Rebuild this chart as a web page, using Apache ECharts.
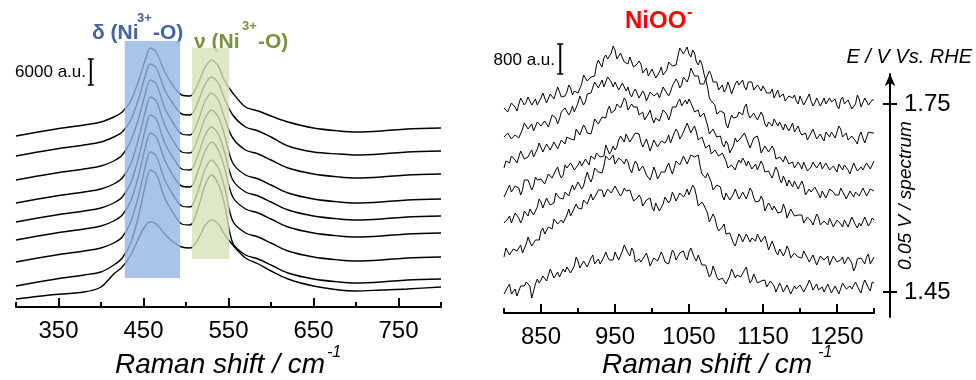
<!DOCTYPE html>
<html><head><meta charset="utf-8">
<script src="https://cdn.jsdelivr.net/npm/echarts@6/dist/echarts.min.js"></script>
<style>html,body{margin:0;padding:0;background:#fff}#c{width:976px;height:380px}</style>
</head><body><div id="c"></div>
<script>
const FONT = '"Liberation Sans", Arial, sans-serif';

// ---- left panel: Raman shift (cm-1) sample positions and stacked spectra (intensity, offset)
const leftShift = [300,340,380,400,415,425,435,445,452,458,465,475,485,495,505,515,522,530,538,545,555,570,585,600,620,650,680,700,730,760,800];
const L1 = [171,177,182,185,190,195,206,228,247,259,255,235,221,212,211,225,239,247,241,227,214,200,196,191,185,179,176,175,176,178,179];
const L2 = [151,157,162,165,170,175,187,210,231,243,239,217,203,193,192,207,222,230,224,209,192,180,176,170,161,155,153,152,153,155,156];
const L3 = [127,133,138,141,146,152,166,191,213,227,223,199,184,173,172,188,205,214,207,190,169,157,153,147,139,133,130,129,130,132,133];
const L4 = [104,110,115,118,123,129,143,171,195,210,206,182,166,155,154,171,188,197,190,173,144,132,128,122,114,108,105,104,105,107,108];
const L5 = [85,91,96,99,104,110,124,152,177,192,188,164,149,138,137,154,171,180,173,156,127,115,111,105,97,91,88,87,88,90,91];
const L6 = [67,73,78,81,86,92,106,134,159,174,170,147,131,121,120,138,155,165,157,140,110,98,94,88,80,74,71,70,71,73,74];
const L7 = [45,51,56,59,64,70,85,114,140,155,151,127,112,101,100,118,137,147,139,121,86,74,70,64,56,50,47,46,47,49,50];
const L8 = [21,27,32,35,42,49,64,94,121,137,133,109,94,83,82,101,121,132,123,104,64,52,48,42,34,28,25,24,25,27,28];
const L9 = [8,12,15,20,33,40,52,70,81,85,83,73,65,60,59,69,81,87,83,73,62,49,43,36,28,21,17,16,17,18,20];

// ---- right panel: Raman shift sample positions and stacked noisy spectra
const rightShift = [
800,802.5,805,807.5,810,812.5,815,817.5,820,822.5,825,827.5,830,832.5,835,837.5,840,842.5,845,847.5,
850,852.5,855,857.5,860,862.5,865,867.5,870,872.5,875,877.5,880,882.5,885,887.5,890,892.5,895,897.5,
900,902.5,905,907.5,910,912.5,915,917.5,920,922.5,925,927.5,930,932.5,935,937.5,940,942.5,945,947.5,
950,952.5,955,957.5,960,962.5,965,967.5,970,972.5,975,977.5,980,982.5,985,987.5,990,992.5,995,997.5,
1000,1002.5,1005,1007.5,1010,1012.5,1015,1017.5,1020,1022.5,1025,1027.5,1030,1032.5,1035,1037.5,1040,1042.5,1045,1047.5,
1050,1052.5,1055,1057.5,1060,1062.5,1065,1067.5,1070,1072.5,1075,1077.5,1080,1082.5,1085,1087.5,1090,1092.5,1095,1097.5,
1100,1102.5,1105,1107.5,1110,1112.5,1115,1117.5,1120,1122.5,1125,1127.5,1130,1132.5,1135,1137.5,1140,1142.5,1145,1147.5,
1150,1152.5,1155,1157.5,1160,1162.5,1165,1167.5,1170,1172.5,1175,1177.5,1180,1182.5,1185,1187.5,1190,1192.5,1195,1197.5,
1200,1202.5,1205,1207.5,1210,1212.5,1215,1217.5,1220,1222.5,1225,1227.5,1230,1232.5,1235,1237.5,1240,1242.5,1245,1247.5,
1250,1252.5,1255,1257.5,1260,1262.5,1265,1267.5,1270,1272.5,1275,1277.5,1280,1282.5,1285,1287.5,1290,1292.5,1295,1297.5,
1300];
const R1 = [
205,207,201,201,210,211,206,202,204,215,213,208,211,216,217,208,210,214,208,210,
215,220,218,210,212,219,218,214,216,226,224,216,216,217,221,228,225,218,222,224,
220,221,229,238,236,232,233,236,235,237,248,253,249,246,255,258,254,255,260,267,
263,254,253,260,255,251,252,249,256,255,246,246,249,252,249,240,242,245,237,237,
244,242,235,235,241,246,238,236,243,251,251,247,246,248,257,265,262,259,261,266,
259,256,263,260,251,248,253,249,240,233,238,242,238,231,229,231,223,224,228,221,
224,231,226,219,220,229,232,228,230,233,226,223,231,233,231,223,222,228,226,222,
227,227,220,218,220,224,215,216,223,216,216,219,212,210,217,218,215,218,212,209,
217,216,208,209,215,219,212,207,210,215,216,207,208,215,209,210,215,211,212,214,
207,204,213,216,209,207,213,212,204,205,209,218,214,206,208,215,213,208,208,213,
213];
const R2 = [
176,174,180,182,174,173,178,180,175,174,184,190,188,184,184,189,182,182,191,191,
187,187,192,194,186,188,198,200,195,189,194,201,200,205,205,198,201,207,201,203,
210,217,215,208,211,219,221,220,222,231,230,225,227,233,226,228,236,236,231,226,
231,231,223,221,230,229,222,226,219,216,221,224,223,215,213,222,219,212,214,221,
220,217,218,220,215,215,226,228,220,217,221,227,229,234,231,225,228,236,238,231,
236,245,244,237,236,237,229,227,229,234,226,215,212,213,208,199,200,202,200,200,
189,185,192,198,195,193,196,201,200,198,206,209,199,195,194,200,198,193,195,201,
197,189,186,191,192,187,194,194,187,191,187,183,189,191,182,184,190,181,180,187,
181,178,180,180,173,172,180,184,179,174,172,179,175,172,181,181,176,181,180,175,
177,187,184,176,178,180,173,172,177,177,172,169,177,181,175,170,172,181,183,180,
180];
const R3 = [
145,152,153,150,157,159,153,150,152,162,160,154,155,156,160,163,156,154,164,170,
169,161,161,169,166,163,165,171,173,164,165,173,173,169,176,178,174,172,173,184,
184,178,179,188,185,180,181,179,186,194,194,189,187,196,198,195,203,207,200,198,
203,209,211,205,205,215,212,203,204,209,206,204,206,198,198,201,193,193,199,203,
195,190,195,197,192,194,203,203,199,193,198,206,206,206,211,214,207,208,213,209,
214,216,206,201,203,203,196,195,200,199,188,179,181,184,182,176,177,177,169,166,
172,169,160,162,167,175,171,170,175,174,180,180,170,165,170,175,175,177,170,160,
162,167,166,161,161,167,163,154,152,156,155,151,157,159,149,148,151,145,145,151,
148,144,151,152,142,140,146,151,149,145,145,151,144,142,150,151,143,142,147,146,
141,149,148,143,148,149,143,139,140,150,148,142,144,146,143,141,150,152,144,146,
152];
const R4 = [
116,117,124,128,121,120,127,129,125,118,123,133,134,133,128,123,127,136,133,131,
134,136,129,129,139,140,135,137,143,146,139,135,138,148,145,145,150,149,143,141,
148,152,147,145,154,154,148,157,156,154,160,160,156,154,157,168,166,159,162,167,
163,166,173,177,175,171,179,180,171,170,177,180,178,179,171,166,170,174,172,162,
164,173,172,166,165,172,170,170,173,178,170,171,180,184,181,174,177,181,181,190,
188,180,184,187,181,173,171,176,174,165,165,168,159,159,163,164,157,155,160,161,
152,145,143,148,148,143,149,153,150,155,152,147,152,153,144,145,149,143,144,152,
148,141,140,142,138,135,141,146,142,134,130,137,133,127,133,132,126,132,131,124,
124,132,127,118,118,124,121,121,126,125,119,115,122,124,115,116,124,126,121,118,
118,118,125,127,118,114,116,122,122,116,121,123,117,119,125,127,117,116,124,125,
122];
const R5 = [
90,88,94,97,90,92,100,100,95,90,94,102,102,97,104,104,98,100,106,114,
111,105,107,115,111,108,110,110,120,122,115,113,114,121,122,117,123,128,123,123,
131,130,124,127,135,141,135,131,136,145,145,141,140,140,147,157,157,153,154,158,
149,147,155,157,152,149,154,151,144,140,147,152,149,142,141,147,143,138,136,133,
139,146,141,134,134,141,141,141,146,150,144,139,145,152,154,148,149,157,156,149,
151,158,158,156,157,158,147,139,137,135,140,141,131,123,125,128,127,126,117,113,
120,120,113,113,119,124,119,114,117,121,121,114,116,125,122,115,111,109,112,117,
113,102,102,110,107,103,107,107,100,99,101,109,104,95,96,104,104,97,95,98,
97,98,90,88,96,97,92,88,90,99,96,88,88,92,92,88,95,96,86,88,
93,94,89,86,93,94,86,88,96,98,88,85,90,87,87,96,95,87,90,95,
93];
const R6 = [
56,65,66,58,59,64,63,62,65,68,60,61,69,76,71,67,68,73,74,73,
82,85,79,77,86,88,84,94,94,89,91,93,90,91,98,104,97,96,105,109,
105,103,104,113,115,109,114,119,113,112,119,123,122,123,116,115,124,125,120,118,
127,129,120,117,120,125,122,121,123,124,112,110,115,118,115,107,108,113,114,115,
106,102,110,110,102,103,109,116,116,110,113,121,117,112,111,120,121,116,119,124,
118,120,128,125,117,107,108,111,108,108,100,91,92,99,95,87,82,80,86,89,
79,77,80,78,70,67,73,79,76,71,70,79,78,71,75,76,72,79,80,71,
70,77,71,63,65,72,70,61,58,64,65,57,61,67,63,55,55,60,59,56,
56,55,62,64,55,51,52,58,57,48,50,57,56,53,53,57,48,48,57,56,
51,49,53,56,49,49,56,56,50,42,46,54,53,55,52,49,56,59,49,50,
56];
const R7 = [
19,19,26,29,19,19,24,17,19,27,26,27,31,32,27,15,14,29,34,30,
33,37,36,32,33,44,42,35,38,41,36,38,44,41,46,48,40,41,47,56,
52,45,47,52,51,46,48,55,58,49,51,54,49,50,56,61,56,53,54,53,
61,63,53,54,62,68,68,60,57,65,62,51,52,54,51,50,57,60,54,47,
49,55,55,52,53,61,57,51,50,49,56,63,60,53,55,60,60,62,56,53,
61,65,63,55,52,58,53,48,50,48,42,36,39,47,42,36,33,31,35,36,
29,27,37,44,40,35,38,40,36,38,43,46,37,30,33,39,37,30,28,32,
32,33,26,24,32,33,27,21,21,30,26,21,23,28,29,19,20,27,24,24,
28,28,21,20,28,33,29,23,22,29,23,21,26,21,19,29,29,20,22,27,
25,19,21,30,28,24,25,27,24,23,31,31,23,20,28,33,31,25,22,31,
30];

// ---- axis ticks / labels
const leftMajorTicks = [350,450,550,650,750];
const rightMajorTicks = [850,950,1050,1150,1250];
const potentialTicks = [1.45,1.75];

// ---- highlighted bands: [shift from, shift to, intensity from, intensity to]
const leftBands = [[428,493,29,266],[507,551,48,259]];
const bandColors = ['rgba(146,181,229,0.8)','rgba(214,226,186,0.8)'];
// ---- scale bars: [shift, intensity from, intensity to]
const leftScaleBar = [[388,222,248]];   // 6000 a.u.
const rightScaleBar = [[876,239,269]];  // 800 a.u.

const chart = echarts.init(document.getElementById('c'), null, {renderer:'canvas'});

function pairs(xs, ys){ return xs.map((x,i)=>[x, ys[i]]); }

const leftSeries = [L1,L2,L3,L4,L5,L6,L7,L8,L9].map(arr=>({
  type:'line', xAxisIndex:0, yAxisIndex:0, data:pairs(leftShift, arr),
  showSymbol:false, smooth:0.3, lineStyle:{color:'#000', width:1.4}, z:2, silent:true
}));
const rightSeries = [R1,R2,R3,R4,R5,R6,R7].map(arr=>({
  type:'line', xAxisIndex:2, yAxisIndex:1, data:pairs(rightShift, arr),
  showSymbol:false, lineStyle:{color:'#000', width:1}, z:2, silent:true
}));

function renderBand(params, api){
  const p0 = api.coord([api.value(0), api.value(3)]);
  const p1 = api.coord([api.value(1), api.value(2)]);
  return {type:'rect', shape:{x:p0[0], y:p0[1], width:p1[0]-p0[0], height:p1[1]-p0[1]},
    style:{fill:bandColors[params.dataIndex]}};
}
function renderBar(params, api){
  const top = api.coord([api.value(0), api.value(2)]);
  const bot = api.coord([api.value(0), api.value(1)]);
  const w = 3;
  return {type:'group', children:[
    {type:'line', shape:{x1:top[0],y1:top[1],x2:bot[0],y2:bot[1]}, style:{stroke:'#000', lineWidth:2}},
    {type:'line', shape:{x1:top[0]-w,y1:top[1],x2:top[0]+w,y2:top[1]}, style:{stroke:'#000', lineWidth:1.5}},
    {type:'line', shape:{x1:bot[0]-w,y1:bot[1],x2:bot[0]+w,y2:bot[1]}, style:{stroke:'#000', lineWidth:1.5}}
  ]};
}

function minorAxis(grid, min, max){
  return {type:'value', gridIndex:grid, min:min, max:max, interval:100, position:'bottom',
    axisLine:{show:true, onZero:false, lineStyle:{color:'#000', width:2}},
    axisTick:{show:true, inside:true, length:5, lineStyle:{color:'#000', width:2}},
    axisLabel:{show:false}, splitLine:{show:false}};
}
function majorAxis(grid, min, max, ticks){
  return {type:'value', gridIndex:grid, min:min, max:max, position:'bottom',
    axisLine:{show:false, onZero:false},
    axisTick:{show:true, inside:true, length:9, customValues:ticks, lineStyle:{color:'#000', width:2}},
    axisLabel:{show:true, customValues:ticks, formatter:v=>String(v), fontSize:24, color:'#000', fontFamily:FONT, margin:12},
    splitLine:{show:false}};
}

const txt = (x, y, text, font, color, align) => ({type:'text', x:x, y:y, silent:true,
  style:{text:text, font:font, fill:color||'#000', align:align||'left', verticalAlign:'middle',
         textAlign:align||'left', textVerticalAlign:'middle'}});

const option = {
  animation:false,
  backgroundColor:'#fff',
  grid:[
    {left:16, top:40, width:425, height:267},
    {left:504, top:40, width:370, height:273},
    {left:889, top:74, width:1, height:243}
  ],
  xAxis:[
    minorAxis(0, 300, 800),
    majorAxis(0, 300, 800, leftMajorTicks),
    minorAxis(1, 800, 1300),
    majorAxis(1, 800, 1300, rightMajorTicks),
    {type:'value', gridIndex:2, show:false, min:0, max:1}
  ],
  yAxis:[
    {type:'value', gridIndex:0, show:false, min:0, max:267},
    {type:'value', gridIndex:1, show:false, min:0, max:273},
    {type:'value', gridIndex:2, position:'right', min:1.4101, max:1.7979,
      axisLine:{show:true, onZero:false, lineStyle:{color:'#000', width:2}, symbol:['none','arrow'], symbolSize:[8,12]},
      axisTick:{show:true, inside:false, length:7, customValues:potentialTicks, lineStyle:{color:'#000', width:2}},
      axisLabel:{show:true, customValues:potentialTicks, formatter:v=>Number(v).toFixed(2), fontSize:24, color:'#000', fontFamily:FONT, margin:14},
      splitLine:{show:false},
      name:'0.05 V / spectrum', nameLocation:'middle', nameRotate:90, nameGap:6, nameMoveOverlap:false,
      nameTextStyle:{fontSize:19, fontStyle:'italic', color:'#000', fontFamily:FONT}},
    {type:'value', gridIndex:2, position:'right', min:1.4101, max:1.7979,
      axisLine:{show:false, onZero:false},
      axisTick:{show:true, inside:true, length:7, customValues:potentialTicks, lineStyle:{color:'#000', width:2}},
      axisLabel:{show:false}, splitLine:{show:false}}
  ],
  series:[
    ...leftSeries,
    ...rightSeries,
    {type:'custom', xAxisIndex:0, yAxisIndex:0, data:leftBands, renderItem:renderBand, z:5, silent:true,
      encode:{x:[0,1], y:[2,3]}},
    {type:'custom', xAxisIndex:0, yAxisIndex:0, data:leftScaleBar, renderItem:renderBar, z:6, silent:true,
      encode:{x:0, y:[1,2]}},
    {type:'custom', xAxisIndex:2, yAxisIndex:1, data:rightScaleBar, renderItem:renderBar, z:6, silent:true,
      encode:{x:0, y:[1,2]}}
  ],
  graphic:[
    txt(86, 72, '6000 a.u.', '17px ' + FONT, '#000', 'right'),
    txt(555, 60, '800 a.u.', '17px ' + FONT, '#000', 'right'),
    txt(92, 33, 'δ (Ni', 'bold 21px ' + FONT, '#41659e'),
    txt(137, 18, '3+', 'bold 13px ' + FONT, '#41659e'),
    txt(153, 33, '-O)', 'bold 21px ' + FONT, '#41659e'),
    txt(194, 42, 'ν (Ni', 'bold 21px ' + FONT, '#77933c'),
    txt(242, 26, '3+', 'bold 13px ' + FONT, '#77933c'),
    txt(258, 42, '-O)', 'bold 21px ' + FONT, '#77933c'),
    txt(625, 21, 'NiOO', 'bold 24px ' + FONT, '#ff0000'),
    txt(687, 13, '-', 'bold 16px ' + FONT, '#ff0000'),
    txt(972, 57, 'E / V Vs. RHE', 'italic 20px ' + FONT, '#000', 'right'),
    txt(115, 365, 'Raman shift / cm', 'italic 28px ' + FONT, '#000'),
    txt(327, 353, '-1', 'italic 16px ' + FONT, '#000'),
    txt(602, 365, 'Raman shift / cm', 'italic 28px ' + FONT, '#000'),
    txt(818, 353, '-1', 'italic 16px ' + FONT, '#000')
  ]
};
chart.setOption(option);
</script>
</body></html>
